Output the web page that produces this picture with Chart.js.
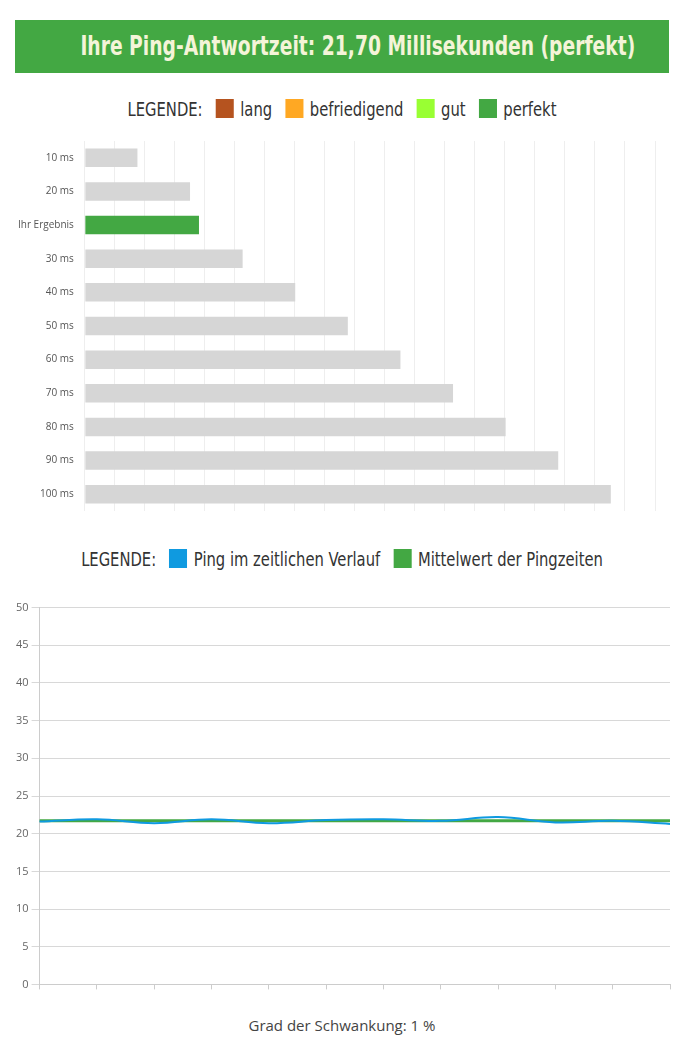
<!DOCTYPE html>
<html>
<head>
<meta charset="utf-8">
<script src="https://cdn.jsdelivr.net/npm/chart.js@4"></script>
<style>
body { margin: 0; background: #fff; font-family: "Open Sans", sans-serif; }
#banner { position: absolute; left: 15px; top: 20px; width: 654px; height: 53px; background: #43a843; }
#banner div { color: #f4f4d8; font: bold 26px "DejaVu Sans Condensed", sans-serif; text-align: center; line-height: 53px; transform: scaleX(0.8); white-space: nowrap; }
.legend { position: absolute; left: 0; width: 684px; text-align: center; font: 20px "DejaVu Sans Condensed", sans-serif; color: #333; transform: scaleX(0.82); white-space: nowrap; }
.legend span.box { display: inline-block; width: 22px; height: 19px; vertical-align: -2px; margin: 0 8px 0 16px; }
#c1 { position: absolute; left: 0; top: 132px; }
#c2 { position: absolute; left: 0; top: 598px; }
#foot { position: absolute; top: 1015px; width: 684px; text-align: center; font-size: 15px; color: #444; }
</style>
</head>
<body>
<div id="banner"><div>Ihre Ping-Antwortzeit: 21,70 Millisekunden (perfekt)</div></div>
<div class="legend" style="top:97px">LEGENDE:<span class="box" style="background:#b5531f"></span>lang<span class="box" style="background:#ffa823"></span>befriedigend<span class="box" style="background:#99ff33"></span>gut<span class="box" style="background:#43a843"></span>perfekt</div>
<canvas id="c1" width="684" height="388"></canvas>
<div class="legend" style="top:547px">LEGENDE:<span class="box" style="background:#0f9ae0"></span>Ping im zeitlichen Verlauf<span class="box" style="background:#43a843"></span>Mittelwert der Pingzeiten</div>
<canvas id="c2" width="684" height="396"></canvas>
<div id="foot">Grad der Schwankung: 1 %</div>
<script>
// bar chart data
let barLabels = ["10 ms", "20 ms", "Ihr Ergebnis", "30 ms", "40 ms", "50 ms", "60 ms", "70 ms", "80 ms", "90 ms", "100 ms"];
let barValues = [10, 20, 21.7, 30, 40, 50, 60, 70, 80, 90, 100];
let barColors = barLabels.map(l => l == "Ihr Ergebnis" ? "#43a843" : "#d6d6d6");

// line chart data
let pingLabels = ["1", "2", "3", "4", "5", "6", "7", "8", "9", "10", "11", "12"];
let pingValues = [21.6, 21.9, 21.4, 21.9, 21.4, 21.8, 21.9, 21.7, 22.2, 21.5, 21.7, 21.3];
let meanValues = pingLabels.map(() => 21.7);

Chart.defaults.font.family = "Open Sans";
Chart.defaults.animation = false;

new Chart(document.getElementById("c1"), {
    type: "bar",
    data: { labels: barLabels, datasets: [{ data: barValues, backgroundColor: barColors, barPercentage: 0.55, categoryPercentage: 1 }] },
    options: {
        indexAxis: "y", responsive: false,
        layout: { padding: { left: 15, right: 29, top: 4, bottom: 2 } },
        plugins: { legend: { display: false }, tooltip: { enabled: false } },
        scales: {
            x: { min: 0, max: 108.4, ticks: { display: false, stepSize: 5.705 }, grid: { color: "#eeeeee", drawTicks: false }, border: { display: false } },
            y: { ticks: { color: "#555", font: { size: 10 } }, grid: { display: false }, border: { display: false } }
        }
    }
});

new Chart(document.getElementById("c2"), {
    type: "line",
    data: { labels: pingLabels, datasets: [
        { data: pingValues, borderColor: "#0f9ae0", borderWidth: 2, pointRadius: 0, tension: 0.4, fill: false },
        { data: meanValues, borderColor: "#43a843", borderWidth: 3, pointRadius: 0, fill: false }
    ] },
    options: {
        responsive: false,
        layout: { padding: { left: 13, right: 14, top: 3, bottom: 0 } },
        plugins: { legend: { display: false }, tooltip: { enabled: false } },
        scales: {
            x: { ticks: { display: false }, grid: { drawOnChartArea: false, drawTicks: true, tickLength: 5, color: "#ccc" }, border: { color: "#ccc" } },
            y: { min: 0, max: 50, ticks: { stepSize: 5, color: "#666", font: { size: 11 } }, grid: { color: "#d8d8d8" }, border: { color: "#ccc" } }
        }
    }
});
</script>
</body>
</html>
